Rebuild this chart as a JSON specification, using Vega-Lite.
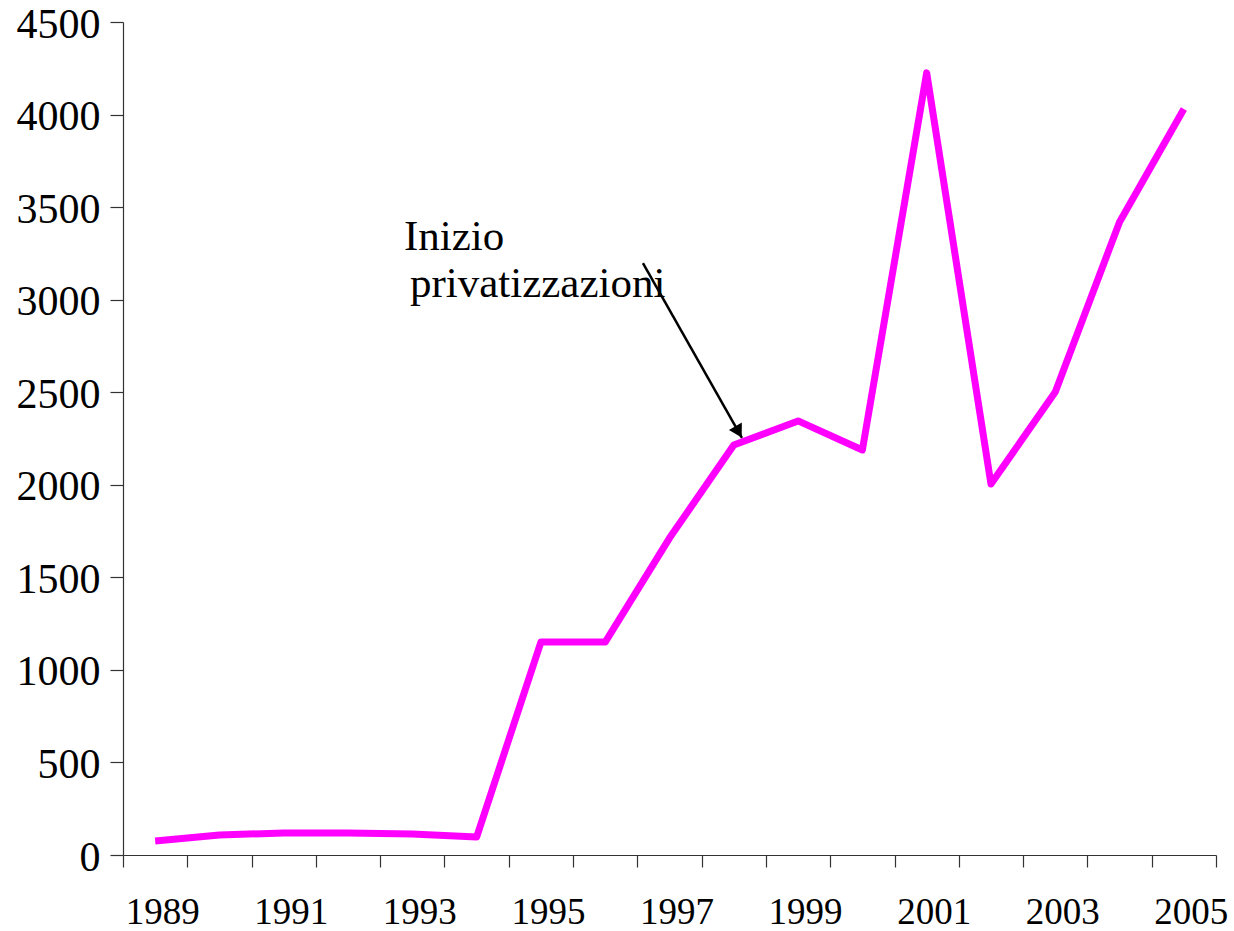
{
  "$schema": "https://vega.github.io/schema/vega-lite/v6.json",
  "width": 1093,
  "height": 833,
  "autosize": "none",
  "padding": {"left": 123, "top": 22, "right": 18, "bottom": 76},
  "background": "white",
  "config": {"view": {"stroke": null}, "font": "Liberation Serif"},
  "datasets": {
    "series": [
      {"year": 1989, "value": 76},
      {"year": 1990, "value": 108},
      {"year": 1991, "value": 119},
      {"year": 1992, "value": 119},
      {"year": 1993, "value": 113},
      {"year": 1994, "value": 97},
      {"year": 1995, "value": 1150},
      {"year": 1996, "value": 1150},
      {"year": 1997, "value": 1712},
      {"year": 1998, "value": 2215},
      {"year": 1999, "value": 2345},
      {"year": 2000, "value": 2188},
      {"year": 2001, "value": 4225},
      {"year": 2002, "value": 2004},
      {"year": 2003, "value": 2501},
      {"year": 2004, "value": 3420},
      {"year": 2005, "value": 4030}
    ],
    "arrow": [
      {"year": 1996.587, "value": 3198, "year2": 1998.127, "value2": 2253}
    ],
    "arrowhead": [
      {"year": 1998.074, "value": 2286}
    ],
    "labels": [
      {"year": 1992.87, "value": 3268, "label": "Inizio"},
      {"year": 1992.963, "value": 3014, "label": "privatizzazioni"}
    ]
  },
  "layer": [
    {
      "data": {"name": "series"},
      "mark": {"type": "line", "color": "#FF00FF", "strokeWidth": 7, "strokeJoin": "round", "strokeCap": "butt"},
      "encoding": {
        "x": {
          "field": "year",
          "type": "quantitative",
          "title": null,
          "scale": {"domain": [1988.5, 2005.5], "nice": false, "zero": false},
          "axis": {
            "values": [1988.5, 1989, 1989.5, 1990.5, 1991, 1991.5, 1992.5, 1993, 1993.5, 1994.5, 1995, 1995.5, 1996.5, 1997, 1997.5, 1998.5, 1999, 1999.5, 2000.5, 2001, 2001.5, 2002.5, 2003, 2003.5, 2004.5, 2005, 2005.5],
            "labelExpr": "datum.value % 1 == 0 ? format(datum.value, 'd') : ''",
            "tickOpacity": {"condition": {"test": "datum.value % 1 == 0", "value": 0}, "value": 1},
            "grid": false,
            "tickSize": 12,
            "tickColor": "#333333",
            "tickWidth": 1.2,
            "domainColor": "#333333",
            "domainWidth": 1.2,
            "labelFont": "Liberation Serif",
            "labelFontSize": 37,
            "labelColor": "black",
            "labelPadding": 27,
            "labelOffset": 7,
            "labelOverlap": false,
            "labelBound": false,
            "labelFlush": false
          }
        },
        "y": {
          "field": "value",
          "type": "quantitative",
          "title": null,
          "scale": {"domain": [0, 4500], "nice": false, "zero": true},
          "axis": {
            "values": [0, 500, 1000, 1500, 2000, 2500, 3000, 3500, 4000, 4500],
            "format": "d",
            "grid": false,
            "tickSize": 13,
            "tickColor": "#333333",
            "tickWidth": 1.2,
            "domainColor": "#333333",
            "domainWidth": 1.2,
            "labelFont": "Liberation Serif",
            "labelFontSize": 42,
            "labelColor": "black",
            "labelPadding": 10,
            "labelOffset": 2,
            "labelOverlap": false,
            "labelBound": false,
            "labelFlush": false
          }
        }
      }
    },
    {
      "data": {"name": "arrow"},
      "mark": {"type": "rule", "color": "black", "strokeWidth": 2.5},
      "encoding": {
        "x": {"field": "year", "type": "quantitative", "title": null},
        "y": {"field": "value", "type": "quantitative", "title": null},
        "x2": {"field": "year2"},
        "y2": {"field": "value2"}
      }
    },
    {
      "data": {"name": "arrowhead"},
      "mark": {"type": "point", "shape": "triangle-up", "filled": true, "color": "black", "size": 220, "angle": 150.5, "opacity": 1},
      "encoding": {
        "x": {"field": "year", "type": "quantitative", "title": null},
        "y": {"field": "value", "type": "quantitative", "title": null}
      }
    },
    {
      "data": {"name": "labels"},
      "mark": {"type": "text", "align": "left", "baseline": "alphabetic", "font": "Liberation Serif", "fontSize": 43, "color": "black"},
      "encoding": {
        "x": {"field": "year", "type": "quantitative", "title": null},
        "y": {"field": "value", "type": "quantitative", "title": null},
        "text": {"field": "label"}
      }
    }
  ]
}
